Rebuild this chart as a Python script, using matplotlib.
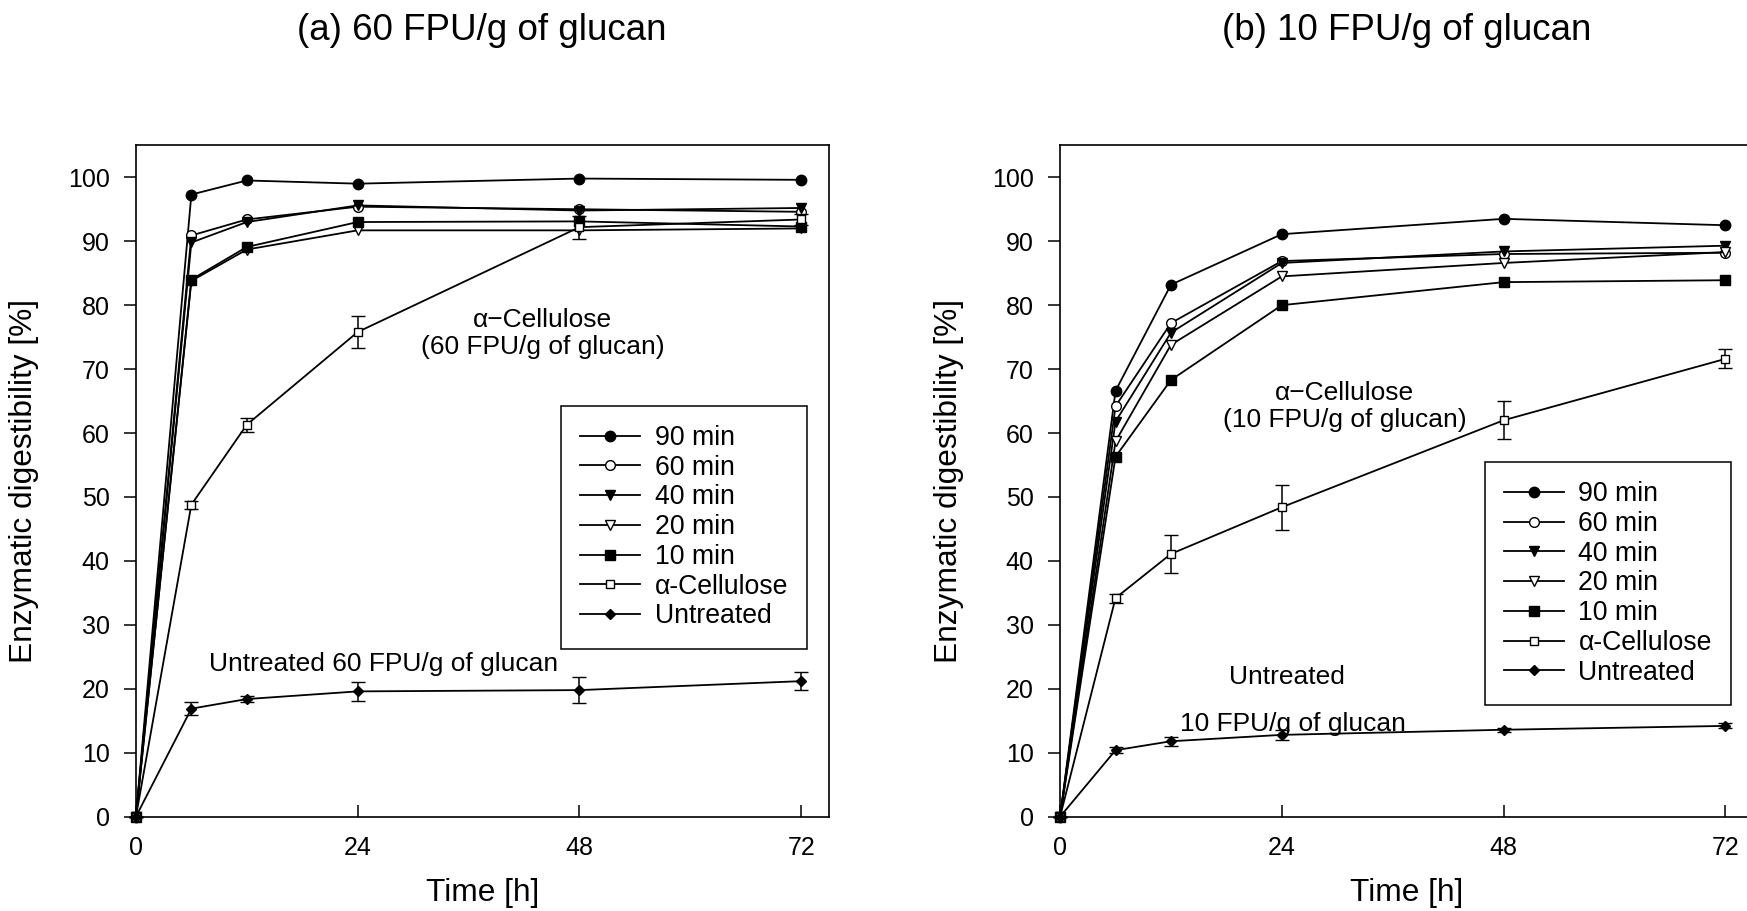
import matplotlib
matplotlib.use("Agg")
import matplotlib.pyplot as plt

plt.rcParams['font.family'] = ['Liberation Sans', 'DejaVu Sans']

time_h = [0, 6, 12, 24, 48, 72]
series_labels = ["90 min", "60 min", "40 min", "20 min", "10 min", "α-Cellulose", "Untreated"]

# (a) 60 FPU/g of glucan
a_90 = [0, 97.3, 99.5, 99.0, 99.8, 99.6]
a_60 = [0, 90.9, 93.4, 95.4, 95.0, 94.6]
a_40 = [0, 89.8, 93.0, 95.6, 94.8, 95.2]
a_20 = [0, 83.8, 88.7, 91.7, 91.7, 92.0]
a_10 = [0, 84.0, 89.1, 93.0, 93.1, 92.3]
a_cel = [0, 48.8, 61.3, 75.8, 92.2, 93.4]
a_cel_err = [0, 0.6, 1.1, 2.5, 1.8, 0.8]
a_unt = [0, 16.9, 18.4, 19.6, 19.8, 21.2]
a_unt_err = [0, 1.0, 0.5, 1.5, 2.0, 1.45]

# (b) 10 FPU/g of glucan
b_90 = [0, 66.6, 83.2, 91.1, 93.5, 92.5]
b_60 = [0, 64.2, 77.2, 86.9, 88.0, 88.2]
b_40 = [0, 61.8, 75.7, 86.6, 88.4, 89.3]
b_20 = [0, 58.7, 73.8, 84.5, 86.6, 88.3]
b_10 = [0, 56.3, 68.3, 80.0, 83.6, 83.9]
b_cel = [0, 34.2, 41.1, 48.4, 62.0, 71.6]
b_cel_err = [0, 0.7, 3.0, 3.5, 3.0, 1.5]
b_unt = [0, 10.4, 11.8, 12.8, 13.6, 14.2]
b_unt_err = [0, 0.5, 0.7, 0.8, 0.3, 0.4]

styles = [
    dict(marker='o', mfc='black', ms=7.5),
    dict(marker='o', mfc='white', ms=7.0),
    dict(marker='v', mfc='black', ms=7.5),
    dict(marker='v', mfc='white', ms=7.5),
    dict(marker='s', mfc='black', ms=6.5),
    dict(marker='s', mfc='white', ms=6.0),
    dict(marker='D', mfc='black', ms=5.5),
]

fig = plt.figure(figsize=(17.47, 9.11), dpi=100)
ax1 = fig.add_axes([0.0778, 0.1035, 0.3967, 0.737])
ax2 = fig.add_axes([0.6068, 0.1035, 0.3967, 0.737])


def draw(ax, treated, cel, cel_err, unt, unt_err):
    handles = []
    for vals, st, lab in zip(treated, styles[:5], series_labels[:5]):
        h, = ax.plot(time_h, vals, color='black', lw=1.3, mec='black', mew=1.0,
                     label=lab, clip_on=False, **st)
        handles.append(h)
    for vals, err, st, lab in ((cel, cel_err, styles[5], series_labels[5]),
                               (unt, unt_err, styles[6], series_labels[6])):
        c = ax.errorbar(time_h, vals, yerr=err, color='black', lw=1.3, mec='black',
                        mew=1.0, capsize=5, capthick=1.1, elinewidth=1.1, label=lab,
                        clip_on=False, **st)
        handles.append(c.lines[0])
    ax.set_xlim(0, 75)
    ax.set_ylim(0, 105)
    ax.set_xticks([0, 24, 48, 72])
    ax.set_yticks(range(0, 101, 10))
    ax.tick_params(axis='y', direction='out', length=9, width=1.1, labelsize=18, pad=10)
    ax.tick_params(axis='x', direction='in', length=9, width=1.1, labelsize=18, pad=14)
    for s in ax.spines.values():
        s.set_linewidth(1.2)
    ax.set_xlabel('Time [h]', fontsize=22.8, va='center')
    ax.xaxis.set_label_coords(0.5, -0.1137)
    ax.set_ylabel('Enzymatic digestibility [%]', fontsize=22.8, va='center')
    ax.yaxis.set_label_coords(-0.161, 0.5)
    return handles


h1 = draw(ax1, [a_90, a_60, a_40, a_20, a_10], a_cel, a_cel_err, a_unt, a_unt_err)
h2 = draw(ax2, [b_90, b_60, b_40, b_20, b_10], b_cel, b_cel_err, b_unt, b_unt_err)

leg_kw = dict(loc='upper left', borderaxespad=0, fontsize=19.2, frameon=True,
              fancybox=False, edgecolor='black', framealpha=1, borderpad=0.72,
              handlelength=2.25, handletextpad=0.55, labelspacing=0.14, numpoints=1)
l1 = ax1.legend(h1, series_labels, bbox_to_anchor=(0.613, 0.612), **leg_kw)
l2 = ax2.legend(h2, series_labels, bbox_to_anchor=(0.6126, 0.5283), **leg_kw)
for l in (l1, l2):
    l.get_frame().set_linewidth(1.1)

ax1.text(44.0, 75.6, 'α−Cellulose\n(60 FPU/g of glucan)', ha='center', va='center',
         fontsize=19, linespacing=1.15)
ax1.text(7.9, 23.9, 'Untreated 60 FPU/g of glucan', ha='left', va='center', fontsize=19)
ax2.text(30.8, 64.1, 'α−Cellulose\n(10 FPU/g of glucan)', ha='center', va='center',
         fontsize=19, linespacing=1.15)
ax2.text(24.5, 21.8, 'Untreated', ha='center', va='center', fontsize=19)
ax2.text(25.2, 14.5, '10 FPU/g of glucan', ha='center', va='center', fontsize=19)

fig.text(482 / 1747, 1 - 31 / 911, '(a) 60 FPU/g of glucan', ha='center', va='center',
         fontsize=26.5)
fig.text(1406.5 / 1747, 1 - 31 / 911, '(b) 10 FPU/g of glucan', ha='center', va='center',
         fontsize=26.5)

fig.savefig('out.png', dpi=100)
